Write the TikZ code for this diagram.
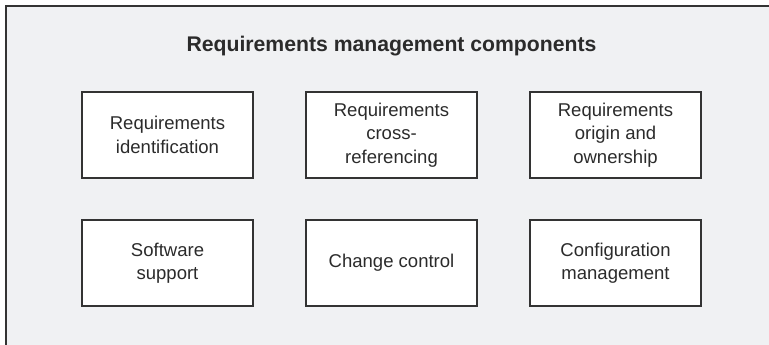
\documentclass[tikz,border=0pt]{standalone}
\usepackage{fontspec}
\setmainfont{Liberation Sans}
\definecolor{bgfill}{HTML}{F0F1F3}
\definecolor{inkc}{HTML}{2B2B2B}
\definecolor{edgec}{HTML}{333333}
\begin{document}
\begin{tikzpicture}[x=0.75pt,y=-0.75pt,
  comp/.style={draw=edgec, line width=1pt, fill=white, minimum width=128.25pt, minimum height=64.5pt,
    align=center, text=inkc, inner sep=0pt, font=\fontsize{13.9pt}{17.6pt}\selectfont},
  titletext/.style={text=inkc, font=\fontsize{15.9pt}{19pt}\selectfont\bfseries, anchor=base, inner sep=0pt}]
\useasboundingbox (0,0) rectangle (769,345);
\fill[white] (0,0) rectangle (769,345);
\fill[bgfill] (6,6) rectangle (769,345);
\draw[edgec, line width=0.9pt] (6,345) -- (6,6) -- (769,6);
\node[titletext] (title) at (391.5,52) {Requirements management components};
\node[comp] (ident) at (167.5,135) {Requirements\\identification};
\node[comp] (cross) at (391.5,135) {Requirements\\cross-\\referencing};
\node[comp] (origin) at (615.5,135) {Requirements\\origin and\\ownership};
\node[comp] (soft) at (167.5,263) {Software\\support};
\node[comp] (change) at (391.5,263) {Change control};
\node[comp] (config) at (615.5,263) {Configuration\\management};
\end{tikzpicture}
\end{document}
